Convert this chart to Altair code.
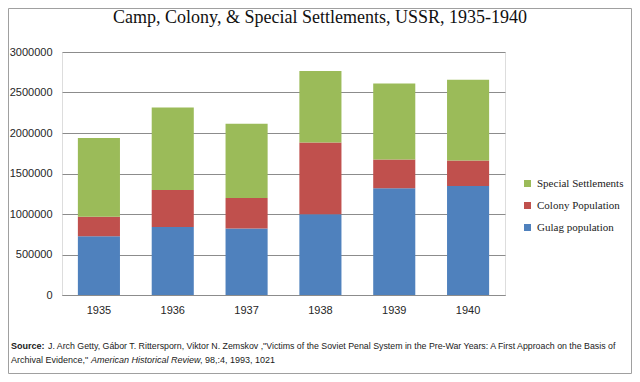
import altair as alt
import pandas as pd

years = ["1935", "1936", "1937", "1938", "1939", "1940"]
gulag = [725483, 839406, 820881, 996367, 1317195, 1344408]
colony = [240259, 457088, 375488, 885203, 355243, 315584]
special = [973693, 1017133, 917907, 884125, 938552, 997513]

series_names = ["Special Settlements", "Colony Population", "Gulag population"]
series_colors = ["#9BBB59", "#C0504D", "#4F81BD"]
stack_rank = {"Gulag population": 0, "Colony Population": 1, "Special Settlements": 2}

title_text = ["Camp, Colony, & Special Settlements, USSR, 1935-1940"]
source_label = "Source:"
source_line1 = ("J. Arch Getty, Gábor T. Rittersporn, Viktor N. Zemskov ,\"Victims of the Soviet Penal "
                "System in the Pre-War Years: A First Approach on the Basis of")
source_line2a = "Archival Evidence,\""
source_line2b = "American Historical Review"
source_line2c = ", 98,:4, 1993, 1021"

rows = []
for i, y in enumerate(years):
    for name, vals in (("Gulag population", gulag), ("Colony Population", colony), ("Special Settlements", special)):
        rows.append({"year": y, "series": name, "value": vals[i], "rank": stack_rank[name]})
df = pd.DataFrame(rows)

W, H = 443, 243

bars = alt.Chart(df).mark_bar().encode(
    x=alt.X("year:N", sort=years, title=None,
            scale=alt.Scale(paddingInner=0.43, paddingOuter=0.215),
            axis=alt.Axis(labelAngle=0, ticks=False, domainColor="#8c8c8c", labelFont="Liberation Sans",
                          labelFontSize=11, labelColor="#262626", labelPadding=9, grid=False)),
    y=alt.Y("value:Q", stack="zero", title=None,
            scale=alt.Scale(domain=[0, 3000000], nice=False),
            axis=alt.Axis(values=[0, 500000, 1000000, 1500000, 2000000, 2500000, 3000000], format="d",
                          ticks=False, domain=False, gridColor="#8c8c8c", gridWidth=1,
                          labelFont="Liberation Sans", labelFontSize=11, labelColor="#262626",
                          labelPadding=10)),
    color=alt.Color("series:N", scale=alt.Scale(domain=series_names, range=series_colors),
                    legend=alt.Legend(title=None, orient="none", legendX=460, legendY=126,
                                      symbolType="square", symbolSize=49, symbolStrokeWidth=0,
                                      labelFont="Liberation Serif", labelFontSize=11,
                                      labelColor="#222222", labelOffset=4, rowPadding=10)),
    order=alt.Order("rank:Q", sort="ascending"),
)

one = pd.DataFrame({"t": title_text})

title = alt.Chart(one).mark_text(font="Liberation Serif", fontSize=18, color="#111111",
                                 align="center", baseline="middle").encode(
    x=alt.value(258), y=alt.value(-34), text="t:N")

def txt(s, x, y, size=9, **kw):
    return alt.Chart(pd.DataFrame({"t": [s]})).mark_text(
        font="Liberation Sans", fontSize=size, color="#1a1a1a",
        align="left", baseline="middle", **kw).encode(x=alt.value(x), y=alt.value(y), text="t:N")

src = [
    txt(source_label, 11 - 62, 346 - 52, fontWeight="bold"),
    txt(source_line1, 48 - 62, 346 - 52, size=8.8),
    txt(source_line2a, 11 - 62, 360 - 52),
    txt(source_line2b, 91 - 62, 360 - 52, fontStyle="italic"),
    txt(source_line2c, 200 - 62, 360 - 52),
]

border = alt.Chart(one).mark_rect(fill=None, stroke="#a0a0a0", strokeWidth=1).encode(
    x=alt.value(-53.5), x2=alt.value(569.5), y=alt.value(-43.5), y2=alt.value(321.5))

chart = alt.layer(border, bars, title, *src).properties(
    width=W, height=H,
    autosize=alt.AutoSizeParams(type="none"),
    padding={"left": 54, "top": 44, "right": 127, "bottom": 79},
).configure_view(stroke=None).configure(background="white")

chart.save("out.html", embed_options={"renderer": "svg", "actions": False})
